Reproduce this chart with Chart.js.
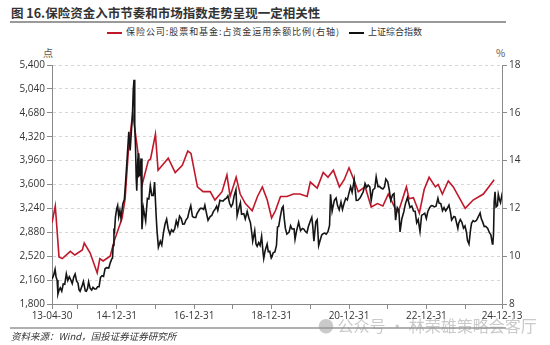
<!DOCTYPE html>
<html>
<head>
<meta charset="utf-8">
<script src="https://cdn.jsdelivr.net/npm/chart.js@4/dist/chart.umd.min.js"></script>
<style>
  html, body { margin:0; padding:0; background:#fff; }
  #wrap { position:relative; width:550px; height:345px; overflow:hidden; font-family:"Noto Sans CJK SC", "Noto Sans", sans-serif; }
  #c { position:absolute; left:0; top:0; }
  .t { position:absolute; white-space:nowrap; }
</style>
</head>
<body>
<div id="wrap">
  <div class="t" id="title" style="left:11px; top:3px; font-size:12.5px; font-weight:bold; color:#333;">图 16.保险资金入市节奏和市场指数走势呈现一定相关性</div>
  <div style="position:absolute; left:10px; top:21px; width:496px; height:2px; background:#9a9a9a;"></div>
  <div class="t" style="left:107px; top:26px; font-size:9px; color:#333; line-height:12px;">
    <span style="display:inline-block; width:15px; height:2px; background:#c0182a; vertical-align:middle; margin-right:4px;"></span><span style="letter-spacing:0.95px;">保险公司:股票和基金:占资金运用余额比例(右轴)</span><span style="display:inline-block; width:15px; height:2px; background:#111; vertical-align:middle; margin-left:9px; margin-right:4px;"></span>上证综合指数
  </div>
  <div class="t" style="left:43px; top:45px; font-size:10px; color:#555;">点</div>
  <div class="t" style="left:496px; top:45px; font-size:10px; color:#555;">%</div>
  <canvas id="c" width="550" height="345"></canvas>
  <div style="position:absolute; left:10px; top:327px; width:496px; height:2px; background:#b0b0b0;"></div>
  <div class="t" style="left:11px; top:329px; font-size:9.5px; font-style:italic; color:#333;">资料来源：Wind，国投证券证券研究所</div>
  <div class="t" style="left:318px; top:313px; font-size:16px; color:rgba(150,150,150,0.5);">● 公众号 · 林荣雄策略会客厅</div>
</div>
<script>
// ---- data ----
const blackDates = [
'2013-04-30','2013-05-15','2013-05-29','2013-06-07','2013-06-17','2013-06-25','2013-07-05','2013-07-17','2013-07-31','2013-08-14','2013-08-28','2013-09-12','2013-09-26','2013-10-10','2013-10-24','2013-11-07','2013-11-21','2013-12-04','2013-12-18','2013-12-31',
'2014-01-10','2014-01-20','2014-02-10','2014-02-20','2014-03-10','2014-03-20','2014-03-31','2014-04-10','2014-04-25','2014-05-09','2014-05-21','2014-06-05','2014-06-20','2014-07-04','2014-07-18','2014-07-31','2014-08-15','2014-08-29','2014-09-12','2014-09-26','2014-10-17','2014-10-31','2014-11-14','2014-11-21','2014-11-28','2014-12-05','2014-12-09','2014-12-19','2014-12-31',
'2015-01-09','2015-01-19','2015-01-30','2015-02-09','2015-02-27','2015-03-13','2015-03-27','2015-04-10','2015-04-24','2015-05-07','2015-05-20','2015-05-28','2015-06-05','2015-06-12','2015-06-19','2015-06-26','2015-07-03','2015-07-08','2015-07-17','2015-07-24','2015-07-27','2015-08-07','2015-08-17','2015-08-26','2015-09-09','2015-09-30','2015-10-16','2015-10-30','2015-11-13','2015-11-27','2015-12-11','2015-12-23',
'2016-01-07','2016-01-15','2016-01-28','2016-02-15','2016-02-29','2016-03-15','2016-03-31','2016-04-15','2016-04-29','2016-05-16','2016-05-31','2016-06-15','2016-06-30','2016-07-15','2016-07-29','2016-08-15','2016-08-31','2016-09-14','2016-09-30','2016-10-14','2016-10-31','2016-11-15','2016-11-29','2016-12-15','2016-12-30',
'2017-01-16','2017-01-26','2017-02-15','2017-02-28','2017-03-15','2017-03-31','2017-04-11','2017-04-28','2017-05-11','2017-05-31','2017-06-15','2017-06-30','2017-07-14','2017-07-31','2017-08-11','2017-08-31','2017-09-15','2017-09-29','2017-10-16','2017-10-31','2017-11-14','2017-11-30','2017-12-15','2017-12-29',
'2018-01-12','2018-01-29','2018-02-09','2018-02-28','2018-03-12','2018-03-23','2018-04-13','2018-04-27','2018-05-15','2018-05-31','2018-06-15','2018-06-29','2018-07-06','2018-07-25','2018-08-06','2018-08-17','2018-08-31','2018-09-14','2018-09-28','2018-10-11','2018-10-18','2018-10-31','2018-11-19','2018-11-30','2018-12-14','2018-12-28',
'2019-01-04','2019-01-15','2019-01-31','2019-02-15','2019-02-25','2019-03-08','2019-03-22','2019-04-08','2019-04-19','2019-04-30','2019-05-10','2019-05-24','2019-06-14','2019-06-28','2019-07-12','2019-07-31','2019-08-09','2019-08-23','2019-09-12','2019-09-30','2019-10-18','2019-10-31','2019-11-15','2019-11-29','2019-12-13','2019-12-31',
'2020-01-14','2020-01-23','2020-02-03','2020-02-21','2020-03-05','2020-03-19','2020-03-31','2020-04-17','2020-04-30','2020-05-15','2020-05-29','2020-06-15','2020-06-30','2020-07-09','2020-07-24','2020-08-14','2020-08-31','2020-09-14','2020-09-29','2020-10-16','2020-10-30','2020-11-13','2020-11-30','2020-12-15','2020-12-31',
'2021-01-15','2021-01-29','2021-02-18','2021-03-09','2021-03-25','2021-04-15','2021-04-30','2021-05-14','2021-05-31','2021-06-15','2021-06-30','2021-07-15','2021-07-28','2021-08-13','2021-08-31','2021-09-13','2021-09-30','2021-10-15','2021-10-29','2021-11-15','2021-11-30','2021-12-13','2021-12-31',
'2022-01-14','2022-01-28','2022-02-15','2022-02-28','2022-03-15','2022-03-31','2022-04-15','2022-04-26','2022-05-13','2022-05-31','2022-06-15','2022-07-05','2022-07-29','2022-08-15','2022-08-31','2022-09-15','2022-09-30','2022-10-14','2022-10-31','2022-11-15','2022-11-30','2022-12-15','2022-12-30',
'2023-01-13','2023-01-31','2023-02-15','2023-02-28','2023-03-15','2023-03-31','2023-04-18','2023-04-28','2023-05-15','2023-05-31','2023-06-15','2023-06-30','2023-07-14','2023-07-31','2023-08-15','2023-08-25','2023-09-15','2023-09-28','2023-10-23','2023-10-31','2023-11-15','2023-11-30','2023-12-15','2023-12-29',
'2024-01-12','2024-01-22','2024-02-05','2024-02-20','2024-02-29','2024-03-15','2024-03-29','2024-04-15','2024-04-30','2024-05-20','2024-05-31','2024-06-14','2024-06-28','2024-07-12','2024-07-31','2024-08-15','2024-08-30','2024-09-13','2024-09-18','2024-09-24','2024-09-30','2024-10-08','2024-10-18','2024-10-31','2024-11-08','2024-11-20','2024-11-29','2024-12-10','2024-12-13'
];
const blackValues = [
2177,2230,2321,2211,2160,1951,2007,2044,1994,2101,2097,2255,2155,2211,2164,2107,2206,2251,2143,2116,
2013,1991,2086,2139,1999,1993,2033,2134,2036,2011,2051,2027,2026,2059,2060,2201,2226,2217,2331,2347,2341,2420,2478,2487,2683,2938,2856,3108,3235,
3285,3116,3210,3095,3310,3373,3692,4035,4394,4112,4446,4620,5023,5178,4478,4193,3687,3507,3958,4070,3726,3744,3993,2927,3243,3053,3391,3383,3580,3436,3435,3636,
3125,2901,2656,2746,2688,2864,3004,3078,2938,2850,2917,2887,2930,3054,2979,3125,3085,3003,3005,3064,3100,3207,3282,3117,3104,
3103,3159,3212,3242,3241,3223,3289,3155,3062,3117,3133,3192,3222,3273,3209,3361,3354,3349,3378,3393,3429,3317,3266,3307,
3429,3523,3130,3259,3326,3153,3160,3082,3193,3095,3022,2847,2747,2904,2705,2669,2725,2682,2821,2583,2486,2603,2703,2588,2594,2494,
2514,2571,2585,2682,2961,2969,3104,3245,3271,3078,2939,2853,2882,2979,2930,2932,2774,2898,3031,2905,2938,2929,2891,2872,2968,3050,
3106,2976,2746,3039,3071,2680,2750,2839,2860,2868,2852,2890,2985,3451,3197,3360,3396,3278,3218,3336,3225,3311,3392,3367,3473,
3566,3483,3675,3360,3363,3398,3447,3490,3615,3556,3591,3565,3361,3517,3544,3715,3568,3572,3547,3533,3564,3681,3640,
3521,3361,3446,3462,3064,3252,3211,2886,3084,3186,3305,3404,3253,3276,3202,3199,3024,3072,2893,3135,3151,3168,3089,
3195,3256,3281,3280,3263,3273,3394,3323,3311,3205,3253,3202,3238,3291,3176,3064,3118,3110,2939,3018,3073,3030,2942,2975,
2881,2756,2702,2923,3015,3055,3041,3057,3105,3171,3087,3033,2967,2971,2939,2877,2842,2704,2717,2863,3336,3489,3261,3280,3452,3367,3326,3422,3392
];
const redDates = [
'2013-04-30','2013-05-31','2013-07-05','2013-08-05','2013-10-20','2013-12-01','2014-02-10','2014-02-28','2014-04-25','2014-06-30','2014-07-25','2014-08-25','2014-10-30','2014-12-05',
'2015-02-20','2015-03-20','2015-04-20','2015-05-31','2015-08-28','2015-10-25','2015-11-15','2015-12-31',
'2016-01-25','2016-04-30','2016-07-05','2016-09-10','2016-11-01','2016-12-01',
'2017-01-31','2017-03-25','2017-05-31','2017-07-15','2017-09-20','2017-11-05','2017-12-05',
'2018-01-31','2018-03-10','2018-04-28','2018-07-01','2018-08-20','2018-10-05','2018-11-20','2018-12-31',
'2019-02-05','2019-03-25','2019-05-25','2019-07-25','2019-09-25','2019-12-01','2019-12-31',
'2020-03-05','2020-05-01','2020-06-15','2020-08-05','2020-10-01','2020-11-15','2020-12-31',
'2021-02-10','2021-03-28','2021-06-01','2021-07-28','2021-09-25','2021-11-15',
'2022-01-05','2022-01-22','2022-03-10','2022-04-10','2022-06-25','2022-07-20','2022-08-30','2022-10-25','2022-12-10',
'2023-01-25','2023-03-25','2023-04-20','2023-05-30','2023-07-25','2023-09-10','2023-12-31',
'2024-03-15','2024-06-20','2024-09-30'
];
const redValues = [
11.4,12.1,9.97,9.9,10.2,10.05,10.26,10.55,10.13,9.3,9.9,9.8,10.0,10.6,
11.6,12.4,14.4,16.0,13.0,14.0,14.07,15.1,
13.6,14.1,13.5,13.8,14.4,14.3,
12.9,12.7,12.7,12.35,12.7,13.4,12.5,
13.3,12.6,12.2,11.9,12.5,12.9,12.35,11.6,
11.9,12.5,12.5,12.6,12.6,12.5,13.1,
12.85,13.5,13.3,13.6,12.9,13.2,13.7,
13.25,12.7,12.9,12.06,12.2,12.1,
12.6,12.45,12.0,11.85,12.9,12.4,12.45,11.8,12.8,
13.3,12.9,13.0,12.6,13.15,12.9,12.0,
12.35,12.6,13.2
];
const xTickDates = ['2013-04-30','2013-12-31','2014-12-31','2015-12-31','2016-12-31','2017-12-31','2018-12-31','2019-12-31','2020-12-31','2021-12-31','2022-12-31','2023-12-31','2024-12-13'];
const xTickLabels = ['13-04-30','','14-12-31','','16-12-31','','18-12-31','','20-12-31','','22-12-31','','24-12-13'];
const leftMin = 1800, leftMax = 5400, leftStep = 360;
const rightMin = 8, rightMax = 18, rightStep = 2;

// ---- helpers ----
function toYear(s) {
  const d = Date.parse(s + 'T00:00:00Z');
  const y = new Date(d).getUTCFullYear();
  const a = Date.UTC(y, 0, 1), b = Date.UTC(y + 1, 0, 1);
  return y + (d - a) / (b - a);
}
const blackData = blackDates.map((d, i) => ({ x: toYear(d), y: blackValues[i] }));
const redData = redDates.map((d, i) => ({ x: toYear(d), y: redValues[i] }));
const tickFont = { family: "'Open Sans', 'Noto Sans', sans-serif", size: 10 };
const axisColor = '#8a8a8a';

new Chart(document.getElementById('c'), {
  type: 'line',
  data: {
    datasets: [
      { label: '上证综合指数', data: blackData, yAxisID: 'yL', borderColor: '#151515', borderWidth: 1.6, pointRadius: 0, tension: 0, order: 0 },
      { label: '保险公司:股票和基金:占资金运用余额比例(右轴)', data: redData, yAxisID: 'yR', borderColor: '#c0182a', borderWidth: 1.6, pointRadius: 0, tension: 0, order: 1 }
    ]
  },
  options: {
    responsive: false,
    animation: false,
    events: [],
    layout: { padding: { left: 0, right: 0, top: 65, bottom: 21 } },
    plugins: { legend: { display: false }, tooltip: { enabled: false } },
    scales: {
      x: {
        type: 'linear',
        min: toYear(xTickDates[0]),
        max: toYear(xTickDates[xTickDates.length - 1]),
        afterBuildTicks: (s) => { s.ticks = xTickDates.map(d => ({ value: toYear(d) })); },
        afterFit: (s) => { s.height = 20; },
        ticks: { autoSkip: false, maxRotation: 0, color: '#333', font: tickFont, padding: 1,
                 callback: (v, i) => xTickLabels[i] },
        grid: { drawOnChartArea: false, drawTicks: true, tickLength: 5, tickColor: axisColor },
        border: { display: true, color: axisColor, width: 1 }
      },
      yL: {
        position: 'left',
        min: leftMin, max: leftMax,
        afterFit: (s) => { s.width = 52; },
        afterBuildTicks: (s) => { const t = []; for (let v = leftMin; v <= leftMax; v += leftStep) t.push({ value: v }); s.ticks = t; },
        ticks: { color: '#333', font: tickFont, padding: 2, callback: (v) => v.toLocaleString('en-US') },
        grid: { drawOnChartArea: true, color: '#d6d6d6', lineWidth: 1, tickLength: 5, tickColor: axisColor, tickBorderDash: [] },
        border: { display: true, color: axisColor, width: 1, dash: [3, 3] }
      },
      yR: {
        position: 'right',
        min: rightMin, max: rightMax,
        afterFit: (s) => { s.width = 48; },
        afterBuildTicks: (s) => { const t = []; for (let v = rightMin; v <= rightMax; v += rightStep) t.push({ value: v }); s.ticks = t; },
        ticks: { color: '#333', font: tickFont, padding: 2 },
        grid: { drawOnChartArea: false, tickLength: 5, tickColor: axisColor },
        border: { display: true, color: axisColor, width: 1 }
      }
    }
  }
});
</script>
</body>
</html>
